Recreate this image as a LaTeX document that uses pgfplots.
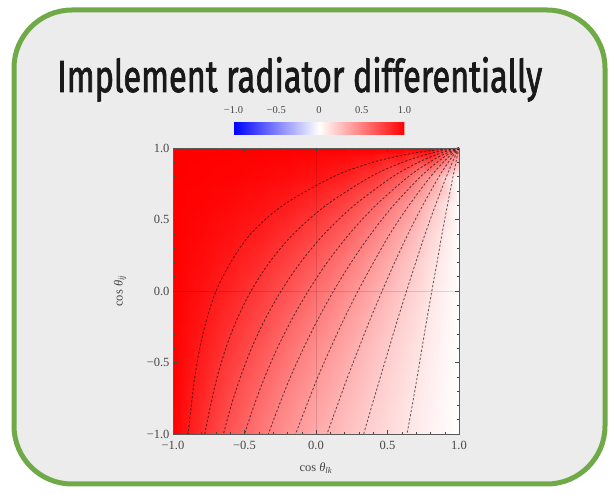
\documentclass[border=0pt]{standalone}
\usepackage{pgfplots}
\pgfplotsset{compat=1.18}
\usepackage{fontspec}
\usepackage{graphicx}
\setmainfont{Liberation Serif}
\newfontfamily\titlefont[FakeBold=2]{Fira Sans}
\definecolor{framegreen}{RGB}{112,170,72}
\definecolor{slidebg}{RGB}{236,236,236}
\definecolor{tickgray}{RGB}{70,70,70}
\pgfplotsset{colormap={bwr}{rgb255=(0,0,255) rgb255=(255,255,255) rgb255=(255,0,0)}}
\pgfplotsset{cstyle/.style={no marks, smooth, black, opacity=0.6, dash pattern=on 2.3pt off 1.8pt, line width=0.85pt}}

\pgfplotstableread{
x y f
-1 -1 1
-0.8 -1 0.8182
-0.6 -1 0.6667
-0.4 -1 0.5385
-0.2 -1 0.4286
0 -1 0.3333
0.2 -1 0.2500
0.4 -1 0.1765
0.6 -1 0.1111
0.8 -1 0.0526
1 -1 0
-1 -0.8 1
-0.8 -0.8 0.8438
-0.6 -0.8 0.7043
-0.4 -0.8 0.5793
-0.2 -0.8 0.4674
0 -0.8 0.3671
0.2 -0.8 0.2771
0.4 -0.8 0.1964
0.6 -0.8 0.1238
0.8 -0.8 0.0586
1 -0.8 0
-1 -0.6 1
-0.8 -0.6 0.8690
-0.6 -0.6 0.7432
-0.4 -0.6 0.6237
-0.2 -0.6 0.5113
0 -0.6 0.4065
0.2 -0.6 0.3096
0.4 -0.6 0.2206
0.6 -0.6 0.1395
0.8 -0.6 0.0661
1 -0.6 0
-1 -0.4 1
-0.8 -0.4 0.8932
-0.6 -0.4 0.7831
-0.4 -0.4 0.6716
-0.2 -0.4 0.5608
0 -0.4 0.4526
0.2 -0.4 0.3487
0.4 -0.4 0.2505
0.6 -0.4 0.1592
0.8 -0.4 0.0755
1 -0.4 0
-1 -0.2 1
-0.8 -0.2 0.9162
-0.6 -0.2 0.8233
-0.4 -0.2 0.7227
-0.2 -0.2 0.6164
0 -0.2 0.5068
0.2 -0.2 0.3964
0.4 -0.2 0.2882
0.6 -0.2 0.1847
0.8 -0.2 0.0881
1 -0.2 0
-1 0 1
-0.8 0 0.9375
-0.6 0 0.8630
-0.4 0 0.7764
-0.2 0 0.6784
0 0 0.5706
0.2 0 0.4556
0.4 0 0.3370
0.6 0 0.2188
0.8 0 0.1052
1 0 0
-1 0.2 1
-0.8 0.2 0.9567
-0.6 0.2 0.9012
-0.4 0.2 0.8315
-0.2 0.2 0.7464
0 0.2 0.6454
0.2 0.2 0.5295
0.4 0.2 0.4016
0.6 0.2 0.2664
0.8 0.2 0.1302
1 0.2 0
-1 0.4 1
-0.8 0.4 0.9733
-0.6 0.4 0.9362
-0.4 0.4 0.8858
-0.2 0.4 0.8188
0 0.4 0.7319
0.2 0.4 0.6225
0.4 0.4 0.4899
0.6 0.4 0.3367
0.8 0.4 0.1697
1 0.4 0
-1 0.6 1
-0.8 0.6 0.9866
-0.6 0.6 0.9664
-0.4 0.6 0.9363
-0.2 0.6 0.8922
0 0.6 0.8286
0.2 0.6 0.7386
0.4 0.6 0.6142
0.6 0.6 0.4487
0.8 0.6 0.2407
1 0.6 0
-1 0.8 1
-0.8 0.8 0.9960
-0.6 0.8 0.9891
-0.4 0.8 0.9777
-0.2 0.8 0.9588
0 0.8 0.9278
0.2 0.8 0.8764
0.4 0.8 0.7906
0.6 0.8 0.6458
0.8 0.8 0.4015
1 0.8 0
-1 1 1
-0.8 1 1
-0.6 1 1
-0.4 1 1
-0.2 1 1
0 1 1
0.2 1 1
0.4 1 1
0.6 1 1
0.8 1 1
1 1 0.5
}\fieldtable

\begin{document}
\begin{tikzpicture}[x=1pt,y=1pt]
\fill[white] (0,0) rectangle (614,495);
\draw[framegreen, line width=5pt, fill=slidebg, rounded corners=58pt] (14,11) rectangle (605,485);
\node[anchor=base west, inner sep=0pt, text=black!90] at (57,403) {\resizebox{485pt}{35pt}{\titlefont Implement radiator differentially}};

\begin{axis}[
  at={(173pt,61pt)}, anchor=south west,
  scale only axis, width=286pt, height=286pt,
  xmin=-1, xmax=1, ymin=-1, ymax=1,
  axis on top,
  colormap name=bwr, point meta min=-1, point meta max=1,
  xtick={-1,-0.5,0,0.5,1}, xticklabels={−1.0,−0.5,0.0,0.5,1.0},
  ytick={-1,-0.5,0,0.5,1}, yticklabels={−1.0,−0.5,0.0,0.5,1.0},
  minor x tick num=4, minor y tick num=4,
  tick align=inside, major tick length=4pt, minor tick length=2.3pt,
  tick style={tickgray, line width=0.4pt},
  axis line style={gray!70!black, line width=0.5pt},
  ticklabel style={font=\fontsize{12.5}{13}\selectfont, text=tickgray},
  xticklabel style={yshift=-4pt},
  extra x ticks={0}, extra x tick labels={}, extra y ticks={0}, extra y tick labels={},
  extra tick style={grid=major, major grid style={black, opacity=0.13, line width=0.6pt}},
  xlabel={cos \textit{θ}\textsubscript{\textit{lk}}},
  ylabel={cos \textit{θ}\textsubscript{\textit{ij}}},
  label style={font=\fontsize{12.5}{13}\selectfont, text=tickgray},
  xlabel style={at={(0.5,-0.118)}, anchor=center},
  ylabel style={at={(-0.185,0.5)}, anchor=center, rotate=0},
  colorbar horizontal,
  colorbar style={
    at={(parent axis.north)}, anchor=south, yshift=22pt, xshift=3pt,
    scale only axis, width=171pt, height=12pt,
    xtick={-1,-0.5,0,0.5,1}, xticklabels={−1.0,−0.5,0,0.5,1.0},
    xticklabel pos=right,
    major tick length=0pt, tick style={draw=none},
    axis line style={draw=none},
    ticklabel style={font=\fontsize{10.5}{11}\selectfont, text=tickgray},
    xticklabel style={yshift=5pt},
  },
]
\addplot[surf, shader=interp, mesh/cols=11, point meta=explicit] table[x=x, y=y, meta=f] {\fieldtable};

% contour levels 0.1 ... 0.9
\addplot[cstyle] coordinates {(1,1) (0.989,0.95) (0.9786,0.9) (0.958,0.8) (0.919,0.6) (0.8816,0.4) (0.8464,0.2) (0.810,0) (0.775,-0.2) (0.741,-0.4) (0.708,-0.6) (0.673,-0.8) (0.6364,-1)};
\addplot[cstyle] coordinates {(1,1) (0.976,0.95) (0.9538,0.9) (0.912,0.8) (0.8354,0.6) (0.7637,0.4) (0.6975,0.2) (0.6331,0) (0.5704,-0.2) (0.5106,-0.4) (0.4508,-0.6) (0.3911,-0.8) (0.3333,-1)};
\addplot[cstyle] coordinates {(1,1) (0.9605,0.95) (0.9248,0.9) (0.860,0.8) (0.747,0.6) (0.644,0.4) (0.5503,0.2) (0.4626,0) (0.3782,-0.2) (0.2992,-0.4) (0.2216,-0.6) (0.1491,-0.8) (0.0769,-1)};
\addplot[cstyle] coordinates {(1,1) (0.941,0.95) (0.890,0.9) (0.801,0.8) (0.651,0.6) (0.5174,0.4) (0.4024,0.2) (0.2938,0) (0.1935,-0.2) (0.1013,-0.4) (0.0134,-0.6) (-0.0656,-0.8) (-0.1429,-1)};
\addplot[cstyle] coordinates {(1,1) (0.9157,0.95) (0.847,0.9) (0.732,0.8) (0.543,0.6) (0.3848,0.4) (0.2461,0.2) (0.1228,0) (0.0123,-0.2) (-0.0876,-0.4) (-0.1784,-0.6) (-0.2583,-0.8) (-0.3333,-1)};
\addplot[cstyle] coordinates {(1,1) (0.882,0.95) (0.792,0.9) (0.646,0.8) (0.419,0.6) (0.2339,0.4) (0.0783,0.2) (-0.0545,0) (-0.1701,-0.2) (-0.2708,-0.4) (-0.3578,-0.6) (-0.4331,-0.8) (-0.5,-1)};
\addplot[cstyle] coordinates {(1,1) (0.923,0.98) (0.834,0.95) (0.717,0.9) (0.537,0.8) (0.2685,0.6) (0.0583,0.4) (-0.1081,0.2) (-0.2441,0) (-0.3573,-0.2) (-0.4509,-0.4) (-0.5277,-0.6) (-0.5931,-0.8) (-0.6471,-1)};
\addplot[cstyle] coordinates {(1,1) (0.880,0.98) (0.757,0.95) (0.605,0.9) (0.383,0.8) (0.071,0.6) (-0.1567,0.4) (-0.3260,0.2) (-0.4545,0) (-0.5537,-0.2) (-0.6307,-0.4) (-0.6903,-0.6) (-0.7372,-0.8) (-0.7778,-1)};
\addplot[cstyle] coordinates {(1,1) (0.786,0.98) (0.607,0.95) (0.397,0.9) (0.122,0.8) (-0.231,0.6) (-0.4563,0.4) (-0.5966,0.2) (-0.6993,0) (-0.7651,-0.2) (-0.8127,-0.4) (-0.8473,-0.6) (-0.872,-0.8) (-0.8947,-1)};
\end{axis}
\end{tikzpicture}
\end{document}
